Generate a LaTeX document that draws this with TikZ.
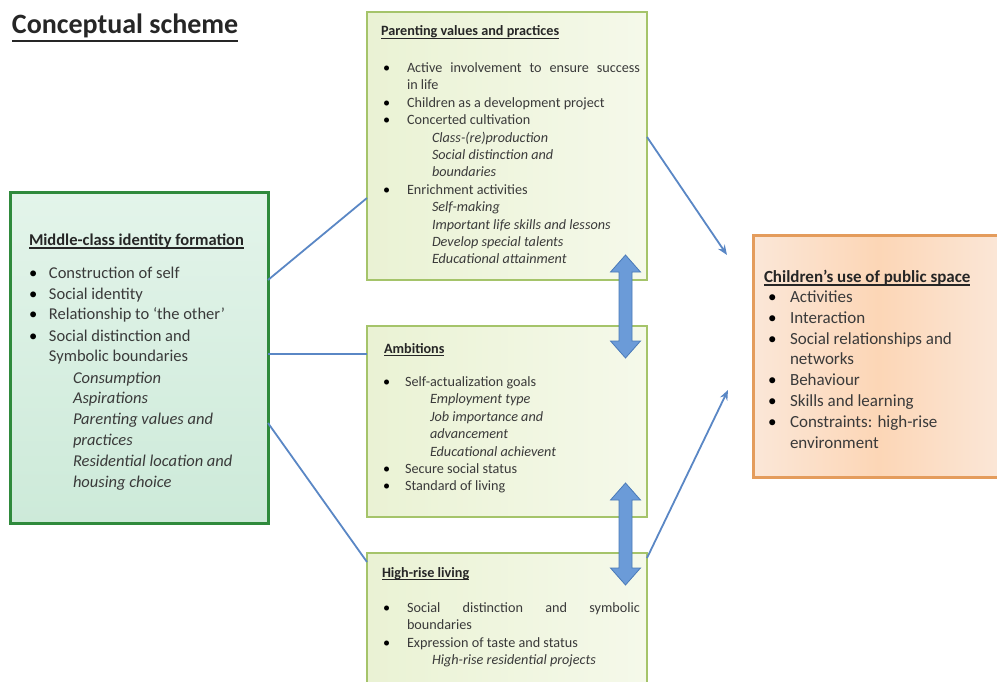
\documentclass[tikz,border=0pt]{standalone}
\usepackage{fontspec}
\setmainfont{Carlito}
\usetikzlibrary{arrows.meta}
\definecolor{ink}{HTML}{3A3A3A}
\definecolor{ttlink}{HTML}{262626}
\definecolor{lgreen}{HTML}{2F8A3C}
\definecolor{lfillA}{HTML}{E3F4EA}
\definecolor{lfillB}{HTML}{CDEAD9}
\definecolor{mborder}{HTML}{A5C46A}
\definecolor{mfillA}{HTML}{EAF2D4}
\definecolor{mfillB}{HTML}{F5F9EA}
\definecolor{oborder}{HTML}{E49C5C}
\definecolor{ofillA}{HTML}{FBE7D8}
\definecolor{ofillB}{HTML}{FCD6B6}
\definecolor{conn}{HTML}{5A87C5}
\definecolor{arrfill}{HTML}{6B9BD8}
\definecolor{arrdraw}{HTML}{4A7AB8}
\newcommand{\bu}[2]{\makebox[#1][l]{\textcolor{black}{\textbullet}}#2}
\newcommand{\dblarr}[3]{%
  \filldraw[fill=arrfill, draw=arrdraw, line width=0.8pt, line join=miter]
    (#1,#2) -- (#1+15,#2+17) -- (#1+6.5,#2+17) -- (#1+6.5,#3-17) -- (#1+15,#3-17)
    -- (#1,#3) -- (#1-15,#3-17) -- (#1-6.5,#3-17) -- (#1-6.5,#2+17) -- (#1-15,#2+17) -- cycle;}
\begin{document}
\begin{tikzpicture}[x=1pt,y=-1pt,
  every node/.style={inner sep=0pt, outer sep=0pt, text=ink},
  mbox/.style={draw=mborder, line width=2.5pt, left color=mfillA, right color=mfillB, minimum width=280pt},
  conline/.style={draw=conn, line width=1.8pt},
  conarrow/.style={draw=conn, line width=1.8pt, -{Stealth[length=10pt,width=8pt]}},
  ttlbig/.style={text=ttlink, font=\fontsize{28}{30}\selectfont\bfseries},
  ttlL/.style={text=ttlink, font=\fontsize{16.5}{21}\selectfont\bfseries},
  ttlM/.style={text=ttlink, font=\fontsize{14.2}{17.4}\selectfont\bfseries},
  ttlR/.style={text=ttlink, font=\fontsize{17}{21}\selectfont\bfseries},
  uline/.style={draw=ttlink, line width=1.2pt}]
\useasboundingbox (0,0) rectangle (997,682);
\fill[white] (0,0) rectangle (997,682);

% boxes
\node[draw=lgreen, line width=3pt, top color=lfillA, bottom color=lfillB,
      minimum width=258pt, minimum height=330pt] (L) at (139,358) {};
\node[mbox, minimum height=268pt] (P) at (507,146) {};
\node[mbox, minimum height=191pt] (A) at (507,421.5) {};
\node[mbox, minimum height=147pt] (H) at (507,626.5) {};
\node[draw=oborder, line width=3pt, left color=ofillA, right color=ofillA, middle color=ofillB,
      minimum width=250pt, minimum height=241pt] (C) at (878,356.5) {};

% title
\node[ttlbig, anchor=base west] (T) at (12,34) {Conceptual scheme};
\draw[draw=ttlink, line width=2.5pt] ([yshift=-7pt]T.base west) -- ([yshift=-7pt]T.base east);

% left box
\node[ttlL, anchor=base west] (Lt) at (29,245) {Middle-class identity formation};
\draw[uline] ([yshift=-3pt]Lt.base west) -- ([yshift=-3pt]Lt.base east);
\node[anchor=base west] (Lb) at (29,278) {\parbox[t]{236pt}{\fontsize{16.5}{21}\selectfont
\bu{20pt}{Construction of self}\\
\bu{20pt}{Social identity}\\
\bu{20pt}{Relationship to `the other'}\\
\bu{20pt}{Social distinction and}\\
\hspace*{20pt}Symbolic boundaries\\
\hspace*{44pt}\textit{Consumption}\\
\hspace*{44pt}\textit{Aspirations}\\
\hspace*{44pt}\textit{Parenting values and}\\
\hspace*{44pt}\textit{practices}\\
\hspace*{44pt}\textit{Residential location and}\\
\hspace*{44pt}\textit{housing choice}}};

% parenting box
\node[ttlM, anchor=base west] (Pt) at (381,36) {Parenting values and practices};
\draw[uline] ([yshift=-2.5pt]Pt.base west) -- ([yshift=-2.5pt]Pt.base east);
\node[anchor=base west] (Pb) at (383,72.5) {\parbox[t]{262pt}{\fontsize{14.2}{17.4}\selectfont
\bu{24pt}{\makebox[233pt][s]{Active involvement to ensure success}}\\
\hspace*{24pt}in life\\
\bu{24pt}{Children as a development project}\\
\bu{24pt}{Concerted cultivation}\\
\hspace*{49pt}\textit{Class-(re)production}\\
\hspace*{49pt}\textit{Social distinction and}\\
\hspace*{49pt}\textit{boundaries}\\
\bu{24pt}{Enrichment activities}\\
\hspace*{49pt}\textit{Self-making}\\
\hspace*{49pt}\textit{Important life skills and lessons}\\
\hspace*{49pt}\textit{Develop special talents}\\
\hspace*{49pt}\textit{Educational attainment}}};

% ambitions box
\node[ttlM, anchor=base west] (At) at (384,353) {Ambitions};
\draw[uline] ([yshift=-2.5pt]At.base west) -- ([yshift=-2.5pt]At.base east);
\node[anchor=base west] (Ab) at (383,386.5) {\parbox[t]{262pt}{\fontsize{14.2}{17.4}\selectfont
\bu{22pt}{Self-actualization goals}\\
\hspace*{47pt}\textit{Employment type}\\
\hspace*{47pt}\textit{Job importance and}\\
\hspace*{47pt}\textit{advancement}\\
\hspace*{47pt}\textit{Educational achievent}\\
\bu{22pt}{Secure social status}\\
\bu{22pt}{Standard of living}}};

% high-rise box
\node[ttlM, anchor=base west] (Ht) at (382,577) {High-rise living};
\draw[uline] ([yshift=-2.5pt]Ht.base west) -- ([yshift=-2.5pt]Ht.base east);
\node[anchor=base west] (Hb) at (383,612.5) {\parbox[t]{262pt}{\fontsize{14.2}{17.4}\selectfont
\bu{24pt}{\makebox[233pt][s]{Social distinction and symbolic}}\\
\hspace*{24pt}boundaries\\
\bu{24pt}{Expression of taste and status}\\
\hspace*{49pt}\textit{High-rise residential projects}}};

% children box
\node[ttlR, anchor=base west] (Ct) at (764,282) {Children’s use of public space};
\draw[uline, line width=1.4pt] ([yshift=-3pt]Ct.base west) -- ([yshift=-3pt]Ct.base east);
\node[anchor=base west] (Cb) at (768,302.5) {\parbox[t]{220pt}{\fontsize{17}{20.8}\selectfont
\bu{22pt}{Activities}\\
\bu{22pt}{Interaction}\\
\bu{22pt}{Social relationships and}\\
\hspace*{22pt}networks\\
\bu{22pt}{Behaviour}\\
\bu{22pt}{Skills and learning}\\
\bu{22pt}{Constraints: high-rise}\\
\hspace*{22pt}environment}};

% connectors
\coordinate (c1) at (727,255);
\coordinate (c2) at (728,390);
\draw[conline] ([yshift=78pt]L.east) -- ([yshift=-52pt]P.west);
\draw[conline] ([yshift=4pt]L.east) -- ([yshift=67.5pt]A.west);
\draw[conline] ([yshift=-65pt]L.east) -- ([yshift=64.5pt]H.west);
\draw[conarrow] ([yshift=9pt]P.east) -- (c1);
\draw[conarrow] ([yshift=-5pt]H.north east) -- (c2);

% double arrows
\dblarr{625.5}{255}{358}
\dblarr{625.5}{483}{585}
\end{tikzpicture}
\end{document}
